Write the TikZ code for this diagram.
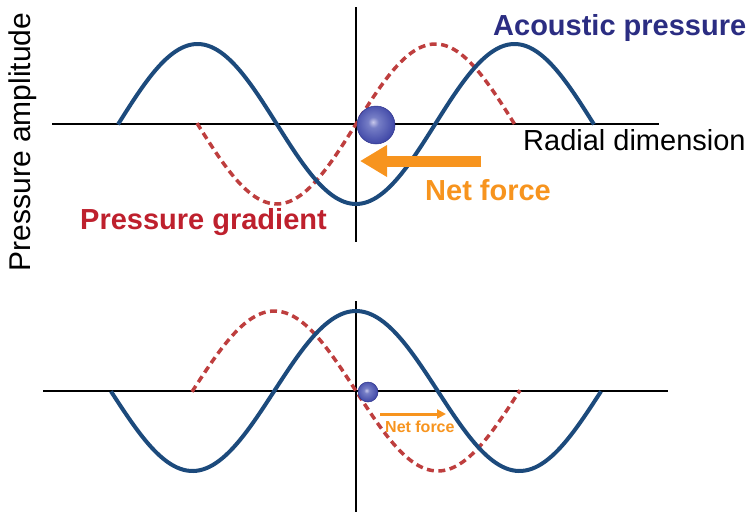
\documentclass[tikz,border=0pt]{standalone}
\usepackage{fontspec}
\setmainfont{Liberation Sans}
\usetikzlibrary{arrows.meta}
\definecolor{wave}{RGB}{28,74,124}
\definecolor{grad}{RGB}{190,62,62}
\definecolor{force}{RGB}{247,148,30}
\definecolor{navy}{RGB}{43,45,130}
\definecolor{gradtxt}{RGB}{190,32,45}
\definecolor{spherehl}{RGB}{200,200,235}
\definecolor{spherelt}{RGB}{118,126,198}
\definecolor{sphere}{RGB}{66,74,168}
\definecolor{sphereedge}{RGB}{46,52,140}
\pgfdeclareradialshading{myball}{\pgfpoint{-4bp}{4bp}}{color(0bp)=(spherehl); color(7bp)=(spherelt); color(26bp)=(sphere); color(46bp)=(sphereedge); color(60bp)=(sphereedge)}
\tikzset{
  axis/.style={line width=2.6pt, black},
  pwave/.style={line width=4pt, wave},
  gwave/.style={line width=3.5pt, grad, dash pattern=on 7pt off 4.5pt},
  ballnode/.style={circle, inner sep=0pt, shading=myball, draw=sphereedge, line width=0.5pt},
  bigtxt/.style={font=\fontsize{29}{34}\selectfont, inner sep=0pt},
  bigbold/.style={font=\fontsize{29}{34}\selectfont\bfseries, inner sep=0pt},
}
\begin{document}
\begin{tikzpicture}[x=1pt,y=-1pt]
\useasboundingbox (0,0) rectangle (749,512);
% top panel axes
\coordinate (tl) at (52,124);
\coordinate (tr) at (659,124);
\coordinate (tt) at (356,7);
\coordinate (tb) at (356,242);
\draw[axis] (tl) -- (tr);
\draw[axis] (tt) -- (tb);
% top waves
\draw[gwave] plot[domain=197:515, samples=120, smooth] (\x,{124-80*sin((\x-356)/317*360)});
\draw[pwave] plot[domain=118:594, samples=150, smooth] (\x,{124+80*cos((\x-356)/317*360)});
% top sphere and arrow
\node[ballnode, minimum size=38pt] (ball1) at (376,125) {};
\coordinate (f1tail) at (481,161);
\coordinate (f1head) at (360,161);
\draw[force, line width=11pt, -{Triangle[length=27pt,width=30pt]}] (f1tail) -- (f1head);
% top labels
\node[bigbold, text=navy, anchor=base west] (acp) at (493,35) {Acoustic pressure};
\node[bigtxt, anchor=base west] (rad) at (523,150) {Radial dimension};
\node[bigbold, text=force, anchor=base west] (nf1) at (425,200) {Net force};
\node[bigbold, text=gradtxt, anchor=base west] (pg) at (80,229) {Pressure gradient};
\node[font=\fontsize{30}{34}\selectfont, inner sep=0pt, rotate=90] (ylab) at (23,142) {Pressure amplitude};
% bottom panel axes
\coordinate (bl) at (43,391);
\coordinate (br) at (668,391);
\coordinate (bt) at (356,301);
\coordinate (bb) at (356,512);
\draw[axis] (bl) -- (br);
\draw[axis] (bt) -- (bb);
% bottom waves
\draw[gwave] plot[domain=192:520, samples=120, smooth] (\x,{391+80*sin((\x-356)/327*360)});
\draw[pwave] plot[domain=111:601, samples=150, smooth] (\x,{391-80*cos((\x-356)/327*360)});
% bottom sphere and arrow
\node[ballnode, minimum size=20pt] (ball2) at (368,392) {};
\coordinate (f2tail) at (380,414);
\coordinate (f2head) at (446,414);
\draw[force, line width=3pt, -{Triangle[length=9pt,width=9pt]}] (f2tail) -- (f2head);
\node[font=\fontsize{16}{19}\selectfont\bfseries, text=force, inner sep=0pt, anchor=base west] (nf2) at (385,432) {Net force};
\end{tikzpicture}
\end{document}
